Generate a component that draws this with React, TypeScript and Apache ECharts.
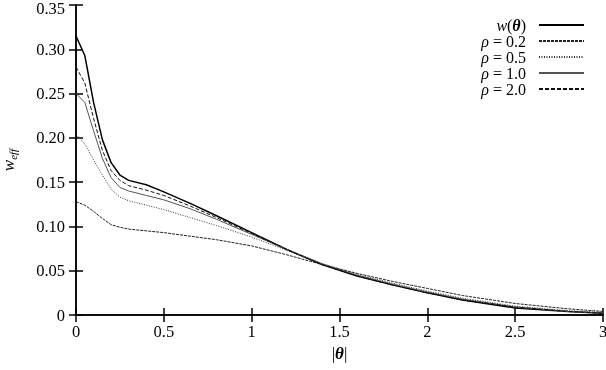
import React, { useEffect, useRef } from "react";
import * as echarts from "echarts";

const thetas = [0, 0.05, 0.1, 0.15, 0.2, 0.25, 0.3, 0.4, 0.5, 0.65, 0.8, 1.0, 1.2, 1.4, 1.6, 1.8, 2.0, 2.2, 2.5, 2.8, 3.0];
const wTheta = [0.315, 0.293, 0.240, 0.198, 0.172, 0.158, 0.152, 0.147, 0.139, 0.126, 0.112, 0.093, 0.074, 0.057, 0.044, 0.034, 0.025, 0.017, 0.008, 0.004, 0.002];
const rho02 = [0.128, 0.124, 0.117, 0.109, 0.102, 0.099, 0.097, 0.095, 0.093, 0.089, 0.085, 0.078, 0.068, 0.057, 0.047, 0.038, 0.030, 0.022, 0.013, 0.007, 0.004];
const rho05 = [0.204, 0.193, 0.175, 0.158, 0.142, 0.133, 0.129, 0.124, 0.119, 0.110, 0.101, 0.088, 0.073, 0.058, 0.046, 0.036, 0.027, 0.019, 0.010, 0.005, 0.003];
const rho10 = [0.250, 0.240, 0.208, 0.177, 0.155, 0.144, 0.140, 0.135, 0.130, 0.120, 0.108, 0.091, 0.074, 0.058, 0.045, 0.035, 0.026, 0.018, 0.009, 0.004, 0.002];
const rho20 = [0.280, 0.262, 0.222, 0.186, 0.163, 0.152, 0.146, 0.141, 0.135, 0.123, 0.110, 0.092, 0.074, 0.057, 0.044, 0.034, 0.025, 0.017, 0.009, 0.004, 0.002];

const seriesNames = ["w", "r02", "r05", "r10", "r20"];
const legendLabels: Record<string, string> = {
  w: "{i|w}{n|(}{b|θ}{n|)}",
  r02: "{i|ρ}{n| = 0.2}",
  r05: "{i|ρ}{n| = 0.5}",
  r10: "{i|ρ}{n| = 1.0}",
  r20: "{i|ρ}{n| = 2.0}",
};

const FONT = "Liberation Serif, DejaVu Serif, serif";
const Y_MAX = 0.35;

const pair = (ys: number[]) => thetas.map((t, i) => [t, ys[i]]);

export default function App() {
  const ref = useRef<HTMLDivElement>(null);
  useEffect(() => {
    if (!ref.current) return;
    const chart = echarts.init(ref.current, undefined, { renderer: "svg" });
    const axisLine = { show: true, lineStyle: { color: "#000", width: 1.5 } };
    const tick = { show: true, inside: true, length: 7, lineStyle: { color: "#000", width: 1.5 } };
    const mk = (name: string, data: number[], color: string, width: number, type: any) => ({
      name,
      type: "line",
      data: pair(data),
      symbol: "none",
      lineStyle: { color, width, type },
      itemStyle: { color },
    });
    chart.setOption({
      animation: false,
      grid: { left: 76, right: 3, top: 5, bottom: 55, outerBoundsMode: "none", containLabel: false },
      xAxis: [
        {
          type: "value",
          min: 0,
          max: 3,
          interval: 0.5,
          axisLine,
          axisTick: tick,
          splitLine: { show: false },
          axisLabel: { color: "#000", fontFamily: FONT, fontSize: 16.5, margin: 8 },
          name: "{n||}{b|θ}{n||}",
          nameLocation: "middle",
          nameGap: 30,
          nameTextStyle: {
            rich: {
              n: { fontFamily: FONT, fontSize: 17, color: "#000" },
              b: { fontFamily: FONT, fontSize: 17, fontStyle: "italic", fontWeight: "bold", color: "#000" },
            },
          },
        },
        {
          type: "value",
          position: "top",
          min: 0,
          max: 3,
          interval: 0.5,
          axisLine,
          axisTick: tick,
          splitLine: { show: false },
          axisLabel: { show: false },
        },
      ],
      yAxis: [
        {
          type: "value",
          min: 0,
          max: Y_MAX,
          interval: 0.05,
          axisLine,
          axisTick: tick,
          splitLine: { show: false },
          axisLabel: {
            color: "#000",
            fontFamily: FONT,
            fontSize: 16.5,
            margin: 11,
            formatter: (v: number) =>
              v === 0 ? "0" : Math.abs(v - Y_MAX) < 1e-9 ? "{t|" + v.toFixed(2) + "}" : v.toFixed(2),
            rich: {
              t: { fontFamily: FONT, fontSize: 16.5, color: "#000", padding: [6, 0, 0, 0] },
            },
          },
          name: "{i|w}{s|eff}",
          nameLocation: "middle",
          nameRotate: 90,
          nameGap: 58,
          nameTextStyle: {
            rich: {
              i: { fontFamily: FONT, fontSize: 17, fontStyle: "italic", color: "#000" },
              s: { fontFamily: FONT, fontSize: 11, fontStyle: "italic", color: "#000", padding: [8, 0, 0, 0] },
            },
          },
        },
        {
          type: "value",
          position: "right",
          min: 0,
          max: Y_MAX,
          interval: 0.05,
          axisLine,
          axisTick: tick,
          splitLine: { show: false },
          axisLabel: { show: false },
        },
      ],
      legend: {
        orient: "vertical",
        right: 16,
        top: 12,
        align: "right",
        itemWidth: 45,
        itemHeight: 12,
        itemGap: 0,
        data: seriesNames,
        selectedMode: false,
        itemStyle: { opacity: 0 },
        formatter: (name: string) => legendLabels[name],
        textStyle: {
          width: 72,
          align: "right",
          padding: [0, 8, 0, 0],
          rich: {
            i: { fontFamily: FONT, fontSize: 16, lineHeight: 17, fontStyle: "italic", color: "#000" },
            b: { fontFamily: FONT, fontSize: 16, lineHeight: 17, fontStyle: "italic", fontWeight: "bold", color: "#000" },
            n: { fontFamily: FONT, fontSize: 16, lineHeight: 17, color: "#000" },
          },
        },
      },
      series: [
        mk("w", wTheta, "#000", 1.5, "solid"),
        mk("r02", rho02, "#222", 1, [3, 1]),
        mk("r05", rho05, "#333", 1, [1, 1.5]),
        mk("r10", rho10, "#555", 1, "solid"),
        mk("r20", rho20, "#111", 1, [4, 2]),
      ],
    });
    return () => chart.dispose();
  }, []);
  return <div ref={ref} style={{ position: "fixed", left: 0, top: 0, width: 606, height: 370 }} />;
}
